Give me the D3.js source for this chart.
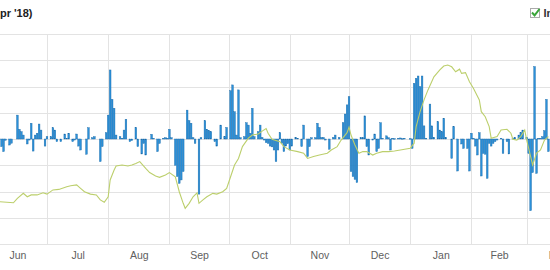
<!DOCTYPE html>
<html lang="en">
<head>
  <meta charset="UTF-8" />
  <title>Daily change vs index</title>
  <style>
    body {
      margin: 0;
      background: #fff;
      font-family: Arial, "Liberation Sans", sans-serif;
      overflow: hidden;
    }
    .grid line { stroke: #e3e3e3; shape-rendering: crispEdges; }
    .grid path { display: none; }
    .months path, .months line { display: none; }
  </style>
</head>
<body>
  <div id="chart"></div>

  <script src="https://d3js.org/d3.v7.min.js"></script>

  <script>
    // daily change, one array per month (day 1..n), null = outside the picture
    const monthStarts = ["2017-06-01", "2017-07-01", "2017-08-01", "2017-09-01", "2017-10-01",
                         "2017-11-01", "2017-12-01", "2018-01-01", "2018-02-01", "2018-03-01"];
    const monthLabels = ["Jun", "Jul", "Aug", "Sep", "Oct", "Nov", "Dec", "Jan", "Feb", "Mar"];

    const junValues = [null, null, null, null, null, null, null, -0.29, -0.48, -0.05,
                       0, -0.23, -0.16, 0, 0, 0.91, 0.37, 0.28, 0.15, 0,
                       -0.19, -0.04, 0.6, -0.46, 0.15, 0.22, 0.57, 0.34, 0, -0.27];
    const julValues = [0.09, 0, 0.09, 0.43, 0.34, -0.1, 0, -0.1, 0, 0.19,
                       0.03, 0.22, 0, -0.1, -0.04, 0.19, -0.27, -0.42, 0, 0,
                       -0.58, 0.43, 0, 0.05, 0.09, 0, 0, -0.86, -0.29, 0, 0.24];
    const augValues = [0.91, 2.63, 1.51, 1.17, 0.15, 0, 0.09, 0.03, 0.34, 0.75,
                       0, -0.1, -0.06, 0, 0.44, -0.29, 0, -0.57, -0.17, -0.61,
                       0, 0, 0.18, 0.03, 0, -0.48, -0.17, 0, 0.03, 0.05, 0.03];
    const sepValues = [0.37, 0.05, 0, -1.0, -1.43, -1.69, -1.56, -1.24, 0, 1.1,
                       0.7, 0.6, 0.05, -0.17, 0, -2.1, 0.05, 0, 0.7, 0.37,
                       0.32, 0.28, 0, -0.1, -0.27, 0, 0.53, 0, 0.09, 0.44];
    const octValues = [0, 1.84, 2.06, 1.04, 0.15, 1.87, 0.05, 0, 0.09, 0.62,
                       0.53, 0.22, 1.17, 0.09, 0, 0.28, 0.53, 0.06, -0.04, -0.14,
                       -0.17, -0.27, -0.3, -0.42, -0.86, -0.42, 0.24, -0.17, -0.48, -0.27, -0.18];
    const novValues = [-0.42, -0.27, 0, 0.06, 0.03, 0, -0.29, 0.53, 0, -0.67,
                       -0.29, 0.05, 0, 0.05, 0.6, 0.44, 0.06, 0.06, -0.04, 0,
                       -0.39, 0, 0.06, 0.15, 0, 0.06, 0, 0.62, 0.95, 1.3];
    const decValues = [1.61, -1.24, -1.43, -1.54, -1.66, 0, 0.05, 0.05, 0.88, -0.29,
                       -0.61, 0, -0.04, 0.19, -0.48, -0.36, 0.62, 0.03, 0, 0.12,
                       0.05, -0.42, 0.03, 0.02, 0, 0.03, 0.04, 0.02, 0.03, 0, 0];
    const janValues = [0.02, -0.36, 2.12, 2.31, 2.4, 1.99, 2.4, 0.5, 0.03, 0,
                       1.33, 0.5, 0.06, 0, 0.66, 0.34, 0.28, 0.79, 0.06, 0,
                       0, -0.74, 0.47, 0, -1.22, 0, -0.19, -0.36, 0, -0.36, -1.22];
    const febValues = [0.22, 0.03, -0.27, -0.61, 0.24, -1.41, -0.55, -0.58, -1.5, -0.17,
                       -0.27, -0.17, -0.1, -0.04, 0, 0.03, -0.55, 0, -0.1, -0.57,
                       0, 0.03, 0.06, 0, 0.15, 0.24, 0.34, 0];
    const marValues = [0.06, -0.55, -2.73, -1.28, 2.76, -1.31, 0.03, 0.03, 0.09, 0.32,
                       1.51, -0.48];

    const monthValues = [junValues, julValues, augValues, sepValues, octValues,
                         novValues, decValues, janValues, febValues, marValues];

    // index line, read point by point
    const indexLine = [
      ["2017-06-07", -2.39], ["2017-06-14", -2.43], ["2017-06-16", -2.26], ["2017-06-19", -2.07],
      ["2017-06-21", -2.2], ["2017-06-23", -2.13], ["2017-06-26", -2.13], ["2017-06-29", -2.05],
      ["2017-07-01", -2.1], ["2017-07-04", -1.94], ["2017-07-07", -1.92], ["2017-07-11", -1.82],
      ["2017-07-13", -1.78], ["2017-07-16", -1.75], ["2017-07-18", -1.88], ["2017-07-20", -2.01],
      ["2017-07-23", -2.1], ["2017-07-26", -2.13], ["2017-07-28", -2.32], ["2017-07-30", -2.41],
      ["2017-08-01", -2.2], ["2017-08-02", -1.56], ["2017-08-04", -1.18], ["2017-08-05", -1.03],
      ["2017-08-08", -0.99], ["2017-08-11", -1.03], ["2017-08-13", -0.99], ["2017-08-15", -0.93],
      ["2017-08-17", -0.86], ["2017-08-20", -1.12], ["2017-08-22", -1.28], ["2017-08-25", -1.41],
      ["2017-08-27", -1.46], ["2017-08-30", -1.37], ["2017-09-01", -1.28], ["2017-09-04", -1.44],
      ["2017-09-06", -2.01], ["2017-09-08", -2.45], ["2017-09-09", -2.64], ["2017-09-11", -2.45],
      ["2017-09-13", -2.2], ["2017-09-15", -2.05], ["2017-09-16", -2.45], ["2017-09-18", -2.32],
      ["2017-09-20", -2.2], ["2017-09-23", -2.07], ["2017-09-25", -2.1], ["2017-09-28", -2.01],
      ["2017-09-30", -1.88], ["2017-10-02", -1.44], ["2017-10-04", -0.99], ["2017-10-06", -0.74],
      ["2017-10-08", -0.29], ["2017-10-11", 0.03], ["2017-10-13", 0.15], ["2017-10-16", 0.19],
      ["2017-10-18", 0.3], ["2017-10-20", 0.4], ["2017-10-21", 0.22], ["2017-10-23", -0.01],
      ["2017-10-27", -0.1], ["2017-10-29", -0.29], ["2017-11-01", -0.42], ["2017-11-05", -0.48],
      ["2017-11-08", -0.54], ["2017-11-10", -0.74], ["2017-11-13", -0.67], ["2017-11-16", -0.61],
      ["2017-11-20", -0.54], ["2017-11-22", -0.42], ["2017-11-25", -0.29], ["2017-11-27", -0.04],
      ["2017-11-30", 0.24], ["2017-12-01", 0.45], ["2017-12-02", 0.15], ["2017-12-04", -0.23],
      ["2017-12-06", -0.54], ["2017-12-08", -0.48], ["2017-12-10", -0.48], ["2017-12-13", -0.61],
      ["2017-12-15", -0.54], ["2017-12-18", -0.48], ["2017-12-21", -0.48], ["2017-12-24", -0.46],
      ["2017-12-27", -0.42], ["2018-01-01", -0.35], ["2018-01-03", -0.16], ["2018-01-04", 0.47],
      ["2018-01-06", 1.04], ["2018-01-08", 1.49], ["2018-01-10", 1.87], ["2018-01-13", 2.37],
      ["2018-01-16", 2.63], ["2018-01-18", 2.78], ["2018-01-20", 2.82], ["2018-01-22", 2.75],
      ["2018-01-24", 2.56], ["2018-01-26", 2.66], ["2018-01-27", 2.5], ["2018-01-29", 2.53],
      ["2018-01-31", 2.18], ["2018-02-02", 1.93], ["2018-02-05", 1.49], ["2018-02-06", 1.04],
      ["2018-02-08", 0.85], ["2018-02-10", 0.47], ["2018-02-11", 0.03], ["2018-02-14", 0.09],
      ["2018-02-16", 0.34], ["2018-02-19", 0.37], ["2018-02-21", 0.22], ["2018-02-22", -0.01],
      ["2018-02-24", -0.04], ["2018-02-26", 0.09], ["2018-02-28", 0.34], ["2018-03-01", -0.04],
      ["2018-03-03", -0.67], ["2018-03-04", -0.99], ["2018-03-06", -0.54], ["2018-03-08", -0.42],
      ["2018-03-10", -0.04], ["2018-03-12", 0.09]
    ];

    const yTicks = [-4, -3, -2, -1, 0, 1, 2, 3, 4];

    const parseDate = d3.timeParse("%Y-%m-%d");

    const bars = [];
    monthStarts.forEach((m, i) => {
      const start = parseDate(m);
      monthValues[i].forEach((v, j) => {
        if (v === null || v === 0) return;
        bars.push({ date: d3.timeDay.offset(start, j), value: v });
      });
    });

    const W = 550, H = 270;
    const plotTop = 34, plotBottom = 244;

    const svg = d3.select("#chart")
      .append("svg")
      .attr("width", W)
      .attr("height", H);

    // the plot is wider than the window: Jul 1 sits at 47px, Mar 1 at 526.7px
    const x = d3.scaleTime()
      .domain([parseDate("2017-07-01"), parseDate("2018-03-01")])
      .range([47, 526.7]);

    const y = d3.scaleLinear()
      .domain([-4, 4])
      .range([plotBottom, plotTop]);

    // horizontal grid
    svg.append("g")
      .attr("class", "grid")
      .attr("transform", `translate(${W + 20},0)`)
      .call(d3.axisLeft(y).tickValues(yTicks).tickSize(W + 40).tickFormat(""));

    // vertical grid at month starts
    const gridMonths = monthStarts.map(parseDate).concat([parseDate("2018-04-01")]);
    svg.append("g")
      .attr("class", "grid")
      .attr("transform", `translate(0,${plotBottom})`)
      .call(d3.axisBottom(x).tickValues(gridMonths).tickSize(-(plotBottom - plotTop)).tickFormat(""));

    // month labels centred in each month
    const midMonths = monthStarts.map(m => {
      const s = parseDate(m);
      return new Date((+s + +d3.timeMonth.offset(s, 1)) / 2);
    });
    svg.append("g")
      .attr("class", "months")
      .attr("transform", `translate(0,${plotBottom})`)
      .call(d3.axisBottom(x).tickValues(midMonths).tickSize(0).tickPadding(8)
        .tickFormat((d, i) => monthLabels[i]))
      .selectAll("text")
      .attr("font-family", "Arial, 'Liberation Sans', sans-serif")
      .attr("font-size", "10.5px")
      .attr("fill", "#606060");

    const bw = 1.7;
    svg.append("g")
      .selectAll("rect")
      .data(bars)
      .enter()
      .append("rect")
      .attr("x", d => x(d.date) - bw / 2)
      .attr("y", d => y(Math.max(0, d.value)))
      .attr("width", bw)
      .attr("height", d => Math.max(0.8, Math.abs(y(d.value) - y(0))))
      .attr("fill", "#2b90d9")
      .attr("stroke", "#1b6aa8")
      .attr("stroke-width", 0.4);

    const line = d3.line()
      .x(d => x(parseDate(d[0])))
      .y(d => y(d[1]));

    svg.append("path")
      .datum(indexLine)
      .attr("d", line)
      .attr("fill", "none")
      .attr("stroke", "#bccf6c")
      .attr("stroke-width", 1.1);

    // title, cut off by the left edge like the reference
    svg.append("text")
      .attr("x", 32.5)
      .attr("y", 17)
      .attr("text-anchor", "end")
      .attr("font-size", "11px")
      .attr("font-weight", "bold")
      .attr("fill", "#222")
      .text("Daily change vs. index (Apr '17 - Apr '18)");

    // legend item at top right
    const legend = svg.append("g");
    legend.append("rect")
      .attr("x", 530.5).attr("y", 8.5)
      .attr("width", 9).attr("height", 9)
      .attr("fill", "#fff").attr("stroke", "#aaa");
    legend.append("path")
      .attr("d", "M532,12.5 L534.6,15.4 L539.5,9")
      .attr("fill", "none")
      .attr("stroke", "#3aa53a")
      .attr("stroke-width", 2);
    legend.append("text")
      .attr("x", 543.5)
      .attr("y", 17)
      .attr("font-size", "11px")
      .attr("font-weight", "bold")
      .attr("fill", "#333")
      .text("Index");
  </script>
</body>
</html>
